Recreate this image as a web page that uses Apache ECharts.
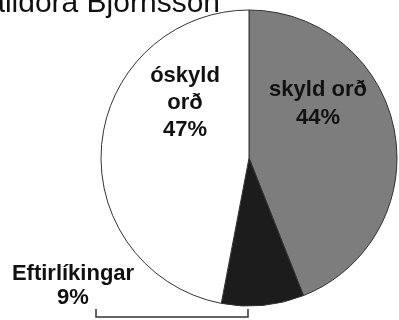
<!DOCTYPE html>
<html>
<head>
<meta charset="utf-8">
<script src="https://cdn.jsdelivr.net/npm/echarts@6/dist/echarts.min.js"></script>
<style>html,body{margin:0;padding:0;background:#fff}#c{width:399px;height:320px}</style>
</head>
<body>
<div id="c"></div>
<script>
var categories = ['skyld orð', 'Eftirlíkingar', 'óskyld orð'];
var values = [44, 9, 47];
var labelTexts = ['skyld orð\n44%', 'Eftirlíkingar\n9%', 'óskyld\norð\n47%'];
var colors = ['#7d7d7d', '#1c1c1c', '#ffffff'];
var labelSpots = [[318, 104], [73, 286], [185, 103]];
var labelLineHeights = [28, 24, 27];

var chart = echarts.init(document.getElementById('c'));
chart.setOption({
  animation: false,
  graphic: [
    {type: 'text', x: 220, y: 19, style: {text: 'Halldóra Björnsson', font: '30px "Liberation Sans"', fill: '#111', textAlign: 'right', textVerticalAlign: 'bottom'}},
    {type: 'polyline', shape: {points: [[96, 309], [96, 317], [248, 317], [248, 309]]}, style: {stroke: '#333', lineWidth: 1.5, fill: null}}
  ],
  series: [{
    type: 'pie',
    center: [249, 158],
    radius: [0, 148],
    startAngle: 90,
    clockwise: true,
    data: categories.map(function (c, i) {
      return {name: c, value: values[i], itemStyle: {color: colors[i]}, label: {lineHeight: labelLineHeights[i]}};
    }),
    itemStyle: {borderColor: '#333', borderWidth: 1},
    label: {
      show: true,
      position: 'inside',
      formatter: function (p) { return labelTexts[p.dataIndex]; },
      fontFamily: '"Liberation Sans"',
      fontWeight: 'bold',
      fontSize: 22,
      color: '#111',
      align: 'center',
      overflow: 'none'
    },
    labelLine: {show: false},
    labelLayout: function (p) {
      var s = labelSpots[p.dataIndex];
      return {x: s[0], y: s[1], align: 'center', verticalAlign: 'middle', hideOverlap: false};
    }
  }]
});
</script>
</body>
</html>
